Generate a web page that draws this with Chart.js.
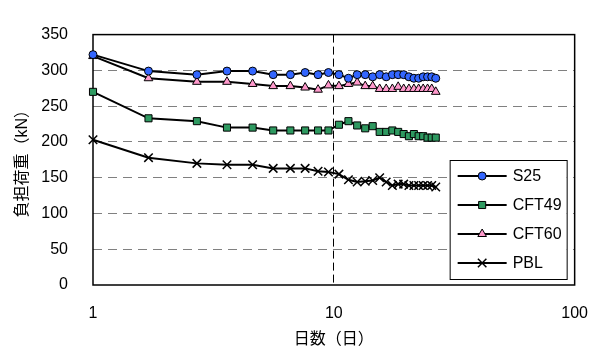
<!DOCTYPE html>
<html>
<head>
<meta charset="utf-8">
<script src="https://cdn.jsdelivr.net/npm/chart.js@4/dist/chart.umd.min.js"></script>
<style>
  html, body { margin: 0; padding: 0; background: #fff; }
  #wrap { width: 607px; height: 351px; }
</style>
</head>
<body>
<div id="wrap"><canvas id="chart" width="607" height="351"></canvas></div>
<script>
'use strict';

/* ---------- data ---------- */
const days = [1, 1.7, 2.7, 3.6, 4.6, 5.6, 6.6, 7.6, 8.6, 9.5, 10.5, 11.5, 12.5, 13.5,
  14.5, 15.5, 16.5, 17.5, 18.5, 19.5, 20.5, 21.5, 22.5, 23.5, 24.5, 25.5, 26.5];

const s25   = [322, 299, 294, 299, 299, 294, 294, 297, 294, 297, 294, 289, 294, 294,
  291, 294, 291, 294, 294, 294, 291, 289, 289, 291, 291, 291, 289];
const cft49 = [270, 233, 229, 220, 220, 216, 216, 216, 216, 216, 224, 229, 223, 219,
  222, 214, 214, 216, 214, 211, 208, 211, 208, 208, 206, 206, 206];
const cft60 = [320, 289, 284, 284, 281, 278, 278, 276, 273, 279, 278, 281, 283, 278,
  278, 274, 274, 274, 277, 274, 274, 274, 274, 274, 274, 274, 270];
const pbl   = [203, 178, 170, 168, 168, 163, 163, 163, 159, 158, 155, 147, 144, 145,
  146, 150, 144, 139, 141, 141, 139, 139, 139, 139, 139, 139, 137];

const seriesNames = ['S25', 'CFT49', 'CFT60', 'PBL'];
const xTickValues = [1, 10, 100];
const yTitle = '負担荷重（kN）';
const xTitle = '日数（日）';

/* ---------- helpers ---------- */
const FONT = "'Liberation Sans', Arial, 'Noto Sans CJK JP', sans-serif";
const toPoints = arr => arr.map((v, i) => ({ x: days[i], y: v }));

function makeSeries(label, values, style, fill, radius, markerLine) {
  return {
    label,
    data: toPoints(values),
    borderColor: '#000',
    borderWidth: 2,
    pointStyle: style,
    pointRadius: radius,
    pointBackgroundColor: fill,
    pointBorderColor: '#000',
    pointBorderWidth: markerLine,
    tension: 0,
    clip: false,
  };
}

/* frame round the plot area */
const frame = {
  id: 'frame',
  beforeDatasetsDraw(chart) {
    const { ctx, chartArea: a } = chart;
    ctx.save();
    ctx.strokeStyle = '#000';
    ctx.lineWidth = 1.5;
    ctx.strokeRect(a.left, a.top, a.right - a.left, a.bottom - a.top);
    ctx.restore();
  }
};

/* legend box inside the lower right of the plot */
const legendBox = {
  id: 'legendBox',
  afterDatasetsDraw(chart) {
    const { ctx, chartArea: a } = chart;
    const w = 117, h = 119;
    const x = a.right - 8 - w, y = a.bottom - 6 - h;
    ctx.save();
    ctx.fillStyle = '#fff';
    ctx.fillRect(x, y, w, h);
    ctx.strokeStyle = '#000';
    ctx.lineWidth = 1;
    ctx.strokeRect(x + 0.5, y + 0.5, w, h);
    chart.data.datasets.forEach((ds, i) => {
      const cy = y + 16 + i * 29;
      ctx.strokeStyle = '#000';
      ctx.lineWidth = 2;
      ctx.beginPath();
      ctx.moveTo(x + 8, cy);
      ctx.lineTo(x + 57, cy);
      ctx.stroke();
      ctx.fillStyle = ds.pointBackgroundColor;
      ctx.strokeStyle = '#000';
      ctx.lineWidth = ds.pointBorderWidth;
      Chart.helpers.drawPoint(ctx, {
        pointStyle: ds.pointStyle, radius: ds.pointRadius,
        borderWidth: ds.pointBorderWidth, rotation: 0
      }, x + 32.5, cy);
      ctx.fillStyle = '#000';
      ctx.font = '16px ' + FONT;
      ctx.textAlign = 'left';
      ctx.textBaseline = 'middle';
      ctx.fillText(ds.label, x + 63, cy + 1);
    });
    ctx.restore();
  }
};

/* ---------- chart ---------- */
new Chart(document.getElementById('chart'), {
  type: 'line',
  data: {
    datasets: [
      makeSeries(seriesNames[0], s25,   'circle',   '#3366ff', 4, 1),
      makeSeries(seriesNames[1], cft49, 'rect',     '#2e9960', 5, 1),
      makeSeries(seriesNames[2], cft60, 'triangle', '#ff99cc', 5, 1),
      makeSeries(seriesNames[3], pbl,   'crossRot', '#000',    6, 1.5),
    ]
  },
  options: {
    responsive: false,
    animation: false,
    events: [],
    layout: { padding: { top: 16, right: 28, left: 0, bottom: 0 } },
    plugins: {
      legend: { display: false },
      tooltip: { enabled: false },
    },
    scales: {
      x: {
        type: 'logarithmic',
        min: 1,
        max: 100,
        afterBuildTicks: s => { s.ticks = xTickValues.map(v => ({ value: v, major: true })); },
        afterFit: s => { s.height = 66; },
        ticks: {
          color: '#000',
          font: { family: FONT, size: 16 },
          padding: 19,
          maxRotation: 0,
          autoSkip: false,
          callback: v => String(v),
        },
        grid: {
          drawTicks: false,
          color: c => (c.tick && c.tick.value === 10 ? '#000' : 'rgba(0,0,0,0)'),
          lineWidth: 1,
        },
        border: { display: false, dash: [8, 4] },
        title: {
          display: true,
          text: xTitle,
          color: '#000',
          font: { family: FONT, size: 16 },
          padding: { top: 0, bottom: 2 },
        },
      },
      y: {
        min: 0,
        max: 350,
        afterFit: s => { s.width = 93; },
        ticks: {
          stepSize: 50,
          color: '#000',
          font: { family: FONT, size: 16 },
          padding: 25,
        },
        grid: {
          drawTicks: false,
          color: c => (c.tick && c.tick.value > 0 && c.tick.value < 350 ? '#808080' : 'rgba(0,0,0,0)'),
          lineWidth: 1,
        },
        border: { display: false, dash: [9, 6] },
        title: {
          display: true,
          text: yTitle,
          color: '#000',
          font: { family: FONT, size: 16 },
          padding: { top: 13, bottom: 0 },
        },
      },
    },
  },
  plugins: [frame, legendBox],
});
</script>
</body>
</html>
